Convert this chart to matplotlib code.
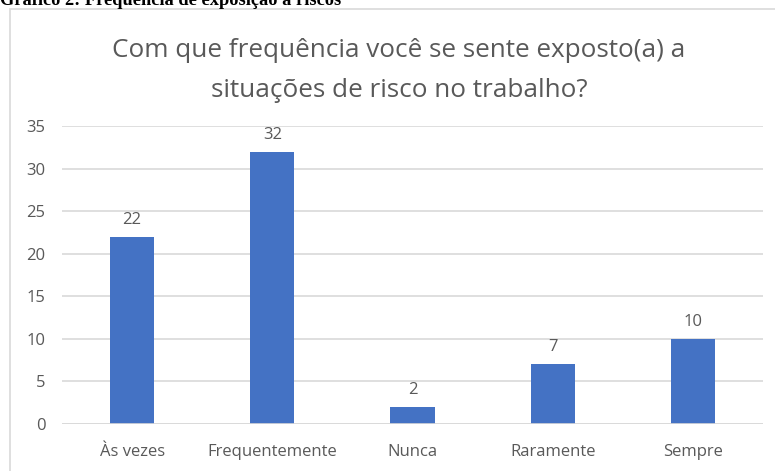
import matplotlib
matplotlib.use("Agg")
import matplotlib.pyplot as plt
from matplotlib.patches import Rectangle

categories = ["Às vezes", "Frequentemente", "Nunca", "Raramente", "Sempre"]
values = [22, 32, 2, 7, 10]
yticks = [0, 5, 10, 15, 20, 25, 30, 35]

W, H = 775, 471
fig = plt.figure(figsize=(W / 100, H / 100), dpi=100)
fig.patch.set_facecolor("white")

FONT = ["Open Sans", "DejaVu Sans"]
GRAY = "#595959"
GRID = "#d9d9d9"
BAR = "#4472c4"

# chart border
fig.patches.append(Rectangle((10 / W, 1 - 480 / H), (800 - 10) / W, (480 - 9) / H,
                             transform=fig.transFigure, fill=False,
                             edgecolor=GRID, linewidth=1.2))

# document header (cut off at top)
fig.text(0 / W, 1 - 5 / H, "Gráfico 2: Frequência de exposição a riscos",
         family="Liberation Serif", fontweight="bold", fontsize=13.2,
         ha="left", va="baseline", color="black")

# chart title
fig.text(399 / W, 1 - 57 / H, "Com que frequência você se sente exposto(a) a",
         family=FONT, fontsize=18.8, color=GRAY, ha="center", va="baseline")
fig.text(399 / W, 1 - 97 / H, "situações de risco no trabalho?",
         family=FONT, fontsize=18.8, color=GRAY, ha="center", va="baseline")

ax = fig.add_axes([62 / W, (H - 424) / H, (763 - 62) / W, (424 - 126) / H])
x = range(len(categories))
ax.bar(x, values, width=0.315, color=BAR, zorder=3)
ax.set_xlim(-0.5, len(categories) - 0.5)
ax.set_ylim(0, 35)
ax.set_yticks(yticks)
ax.set_xticks(list(x))
ax.set_xticklabels(categories, family=FONT, fontsize=12, color=GRAY)
ax.set_yticklabels([str(t) for t in yticks], family=FONT, fontsize=12, color=GRAY)
ax.tick_params(axis="both", length=0)
ax.tick_params(axis="x", pad=14.5)
ax.tick_params(axis="y", pad=12)
for lbl in ax.get_yticklabels():
    lbl.set_horizontalalignment("right")
ax.grid(axis="y", color=GRID, linewidth=1.2, zorder=0)
for s in ax.spines.values():
    s.set_visible(False)
ax.axhline(0, color=GRID, linewidth=1.2, zorder=4)

for xi, v in zip(x, values):
    ax.annotate(str(v), (xi, v), xytext=(0, 6.5), textcoords="offset points",
                ha="center", va="bottom", family=FONT, fontsize=12, color=GRAY)

fig.savefig("out.png", dpi=100)
